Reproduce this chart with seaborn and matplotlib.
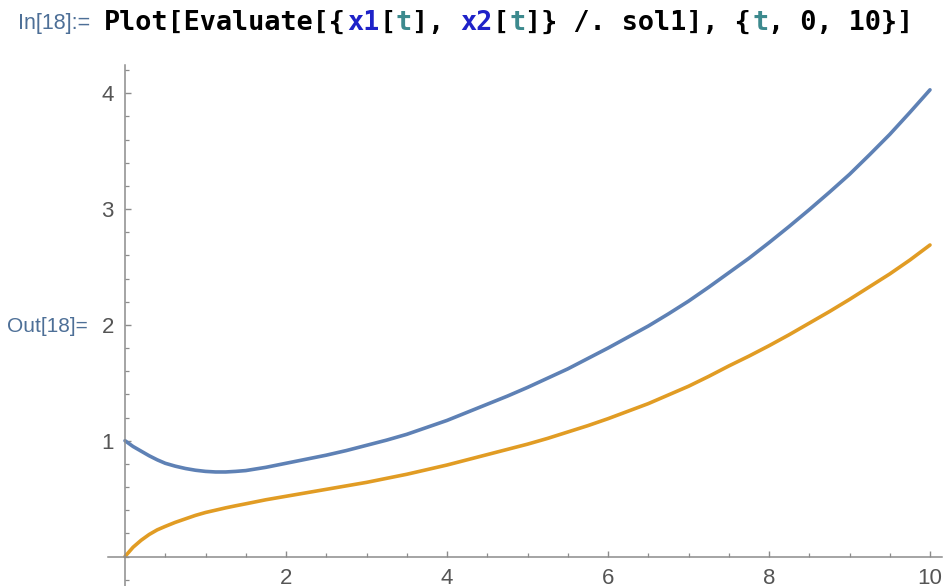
import matplotlib
matplotlib.use("Agg")
import matplotlib.pyplot as plt
import seaborn as sns
import pandas as pd
from matplotlib.ticker import MultipleLocator, FixedLocator

# ---- data ----
t_vals = [0, 0.05, 0.1, 0.2, 0.3, 0.4, 0.5, 0.625, 0.75, 0.875, 1.0, 1.125,
          1.25, 1.375, 1.5, 1.75, 2.0, 2.25, 2.5, 2.75, 3.0, 3.25, 3.5, 3.75,
          4.0, 4.25, 4.5, 4.75, 5.0, 5.25, 5.5, 5.75, 6.0, 6.25, 6.5, 6.75,
          7.0, 7.25, 7.5, 7.75, 8.0, 8.25, 8.5, 8.75, 9.0, 9.25, 9.5, 9.75,
          10.0]
x1_vals = [1.0, 0.975, 0.95, 0.91, 0.87, 0.835, 0.805, 0.78, 0.76, 0.745,
           0.735, 0.73, 0.73, 0.735, 0.742, 0.77, 0.805, 0.84, 0.875, 0.915,
           0.96, 1.005, 1.055, 1.115, 1.175, 1.245, 1.315, 1.385, 1.46, 1.54,
           1.62, 1.71, 1.80, 1.895, 1.99, 2.095, 2.205, 2.325, 2.45, 2.575,
           2.71, 2.85, 2.995, 3.145, 3.30, 3.47, 3.645, 3.835, 4.03]
x2_vals = [0.0, 0.04, 0.08, 0.14, 0.19, 0.23, 0.26, 0.295, 0.325, 0.355,
           0.38, 0.40, 0.42, 0.438, 0.455, 0.49, 0.52, 0.55, 0.58, 0.61,
           0.64, 0.675, 0.71, 0.75, 0.79, 0.835, 0.88, 0.925, 0.97, 1.02,
           1.075, 1.13, 1.19, 1.255, 1.32, 1.395, 1.47, 1.555, 1.645, 1.73,
           1.82, 1.915, 2.015, 2.115, 2.22, 2.33, 2.44, 2.56, 2.69]
x_ticks = [2, 4, 6, 8, 10]
y_ticks = [1, 2, 3, 4]
series_names = ["x1", "x2"]

df = pd.DataFrame({
    "t": t_vals * 2,
    "value": x1_vals + x2_vals,
    "series": [series_names[0]] * len(t_vals) + [series_names[1]] * len(t_vals),
})

sns.set_style("white")
plt.rcParams["font.family"] = ["Liberation Sans", "DejaVu Sans"]

W, H = 947, 586
fig = plt.figure(figsize=(W / 100, H / 100), dpi=100)

# axes geometry (pixels)
x0_px, px_per_x = 125.0, 80.5
y0_px, px_per_y = 556.5, 115.8
left_px, right_px = 108.3, 942.0
top_px, bot_px = 65.0, 586.0
xmin = (left_px - x0_px) / px_per_x
xmax = (right_px - x0_px) / px_per_x
ymin = -(bot_px - y0_px) / px_per_y
ymax = (y0_px - top_px) / px_per_y

ax = fig.add_axes([left_px / W, (H - bot_px) / H,
                   (right_px - left_px) / W, (bot_px - top_px) / H])
ax.set_facecolor("white")

palette = {"x1": "#5E81B5", "x2": "#E19C24"}
sns.lineplot(data=df, x="t", y="value", hue="series", palette=palette,
             linewidth=2.6, legend=False, ax=ax, sort=True,
             solid_capstyle="round", solid_joinstyle="round")

ax.set_xlim(xmin, xmax)
ax.set_ylim(ymin, ymax)
ax.set_xlabel("")
ax.set_ylabel("")

spine_col = "#8c8c8c"
for s in ["top", "right"]:
    ax.spines[s].set_visible(False)
ax.spines["left"].set_position(("data", 0))
ax.spines["bottom"].set_position(("data", 0))
for s in ["left", "bottom"]:
    ax.spines[s].set_color(spine_col)
    ax.spines[s].set_linewidth(1.1)

ax.xaxis.set_major_locator(FixedLocator(x_ticks))
ax.yaxis.set_major_locator(FixedLocator(y_ticks))
ax.xaxis.set_minor_locator(MultipleLocator(0.5))
ax.yaxis.set_minor_locator(MultipleLocator(0.2))
ax.set_xticklabels([str(v) for v in x_ticks])
ax.set_yticklabels([str(v) for v in y_ticks])

ax.tick_params(axis="both", which="major", direction="in", length=4.5,
               width=1.0, color=spine_col, labelsize=16, labelcolor="#555555")
ax.tick_params(axis="both", which="minor", direction="in", length=2.6,
               width=0.9, color=spine_col)
ax.tick_params(axis="x", which="major", pad=8)
ax.tick_params(axis="y", which="major", pad=8)
ax.tick_params(bottom=True, left=True, which="both")

# ---- notebook labels ----
lab_col = "#4D6F97"
fig.text(18 / W, 1 - 24 / H, "In[18]:=", fontsize=15.5, color=lab_col,
         ha="left", va="center")
fig.text(7 / W, 1 - 327 / H, "Out[18]=", fontsize=15, color=lab_col,
         ha="left", va="center")

# code line drawn as monospace segments
segments = [("Plot[Evaluate[{", "#000000"), ("x1", "#1E22C8"), ("[", "#000000"),
            ("t", "#3D8A8E"), ("], ", "#000000"), ("x2", "#1E22C8"),
            ("[", "#000000"), ("t", "#3D8A8E"), ("]} /. sol1], {", "#000000"),
            ("t", "#3D8A8E"), (", 0, 10}]", "#000000")]
start_px, adv_px = 104.0, 16.2
idx = 0
for txt, col in segments:
    fig.text((start_px + idx * adv_px) / W, 1 - 23 / H, txt,
             family="DejaVu Sans Mono", fontweight="bold",
             fontsize=adv_px / 0.602 * 0.72, color=col,
             ha="left", va="center")
    idx += len(txt)

fig.savefig("out.png", dpi=100, facecolor="white")
